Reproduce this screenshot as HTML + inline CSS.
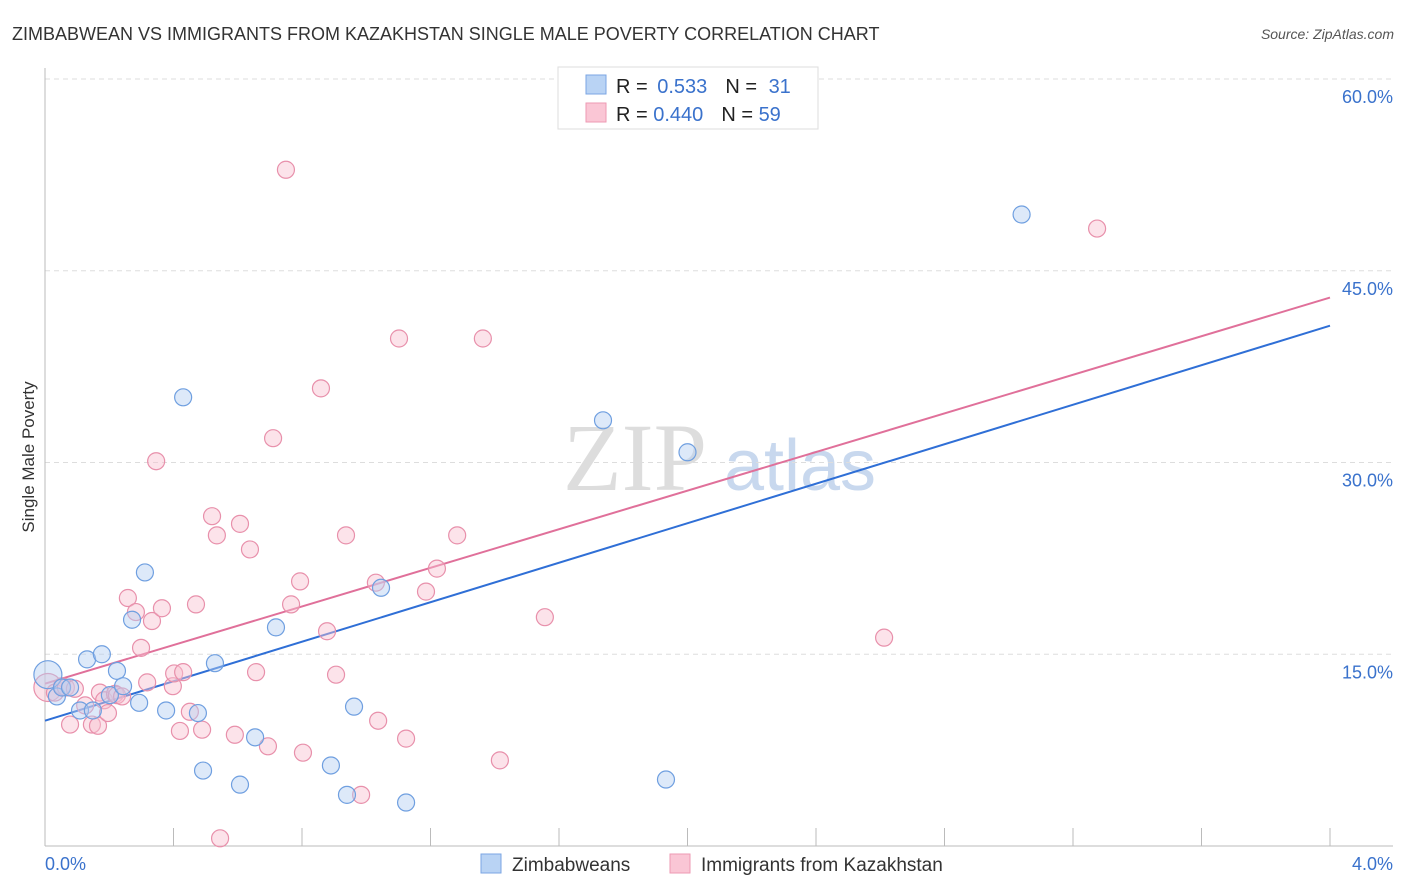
<!DOCTYPE html>
<html><head><meta charset="utf-8"><style>
body{margin:0;background:#fff;font-family:"Liberation Sans",sans-serif;}
svg{display:block}
</style></head><body>
<svg id="chart" width="1406" height="892" viewBox="0 0 1406 892" xmlns="http://www.w3.org/2000/svg">
<text x="12" y="40" font-size="18" fill="#333">ZIMBABWEAN VS IMMIGRANTS FROM KAZAKHSTAN SINGLE MALE POVERTY CORRELATION CHART</text>
<text x="1394" y="39" font-size="14" fill="#555" font-style="italic" text-anchor="end">Source: ZipAtlas.com</text>
<text transform="translate(34,457) rotate(-90)" font-size="17" fill="#333" text-anchor="middle">Single Male Poverty</text>
<g>
<text x="635" y="490" font-size="96" fill="#ddd" font-family="Liberation Serif" text-anchor="middle">ZIP</text>
<text x="800" y="490" font-size="72" fill="#c8d8ee" text-anchor="middle">atlas</text>
</g>
<g id="grid"></g><g id="axes"></g><g id="lines"></g><g id="pts"></g>
<g>
<rect x="558" y="67" width="260" height="62" fill="#fff" stroke="#ddd"/>
<rect x="586" y="75" width="20" height="19" fill="#b9d3f4" stroke="#7ba6e3"/>
<rect x="586" y="103" width="20" height="19" fill="#fac6d5" stroke="#ee9ab3"/>
<text x="616" y="93" font-size="20" fill="#222">R = <tspan fill="#3a72cc" dx="4">0.533</tspan><tspan dx="18" fill="#222">N = </tspan><tspan fill="#3a72cc" dx="6">31</tspan></text>
<text x="616" y="121" font-size="20" fill="#222">R = <tspan fill="#3a72cc">0.440</tspan><tspan dx="18" fill="#222">N = </tspan><tspan fill="#3a72cc">59</tspan></text>
</g>
<g>
<rect x="481" y="854" width="20" height="19" fill="#b9d3f4" stroke="#7ba6e3"/>
<text x="512" y="871" font-size="19" fill="#333">Zimbabweans</text>
<rect x="670" y="854" width="20" height="19" fill="#fac6d5" stroke="#ee9ab3"/>
<text x="701" y="871" font-size="19" fill="#333">Immigrants from Kazakhstan</text>
</g>
</svg>
<script>
const xTicks=[0,0.4,0.8,1.2,1.6,2.0,2.4,2.8,3.2,3.6,4.0];
const yTicks=[15,30,45,60];
const yTickLabels=["15.0%","30.0%","45.0%","60.0%"];
const xEndLabels=["0.0%","4.0%"];
const blueX=[0.009,0.037,0.053,0.078,0.109,0.131,0.149,0.177,0.202,0.224,0.243,0.271,0.293,0.311,0.377,0.43,0.476,0.492,0.529,0.607,0.654,0.719,0.89,0.94,0.962,1.046,1.124,1.737,1.933,2.0,3.04];
const blueY=[13.4,11.7,12.4,12.4,10.6,14.6,10.6,15.0,11.8,13.7,12.5,17.7,11.2,21.4,10.6,35.1,10.4,5.9,14.3,4.8,8.5,17.1,6.3,4.0,10.9,20.2,3.4,33.3,5.2,30.8,49.4];
const pinkX=[0.009,0.031,0.053,0.065,0.078,0.093,0.125,0.146,0.165,0.171,0.184,0.196,0.218,0.224,0.24,0.258,0.283,0.299,0.318,0.333,0.346,0.364,0.398,0.402,0.42,0.43,0.451,0.47,0.489,0.52,0.535,0.545,0.591,0.607,0.638,0.657,0.694,0.71,0.75,0.766,0.794,0.803,0.859,0.878,0.906,0.937,0.984,1.03,1.037,1.102,1.124,1.186,1.22,1.283,1.363,1.416,1.556,2.612,3.275];
const pinkY=[12.4,12.0,12.5,12.4,9.5,12.3,11.0,9.5,9.4,12.0,11.4,10.4,11.9,11.8,11.7,19.4,18.3,15.5,12.8,17.6,30.1,18.6,12.5,13.5,9.0,13.6,10.5,18.9,9.1,25.8,24.3,0.6,8.7,25.2,23.2,13.6,7.8,31.9,52.9,18.9,20.7,7.3,35.8,16.8,13.4,24.3,4.0,20.6,9.8,39.7,8.4,19.9,21.7,24.3,39.7,6.7,17.9,16.3,48.3];
const blueTrend=[9.8,40.7];
const pinkTrend=[12.7,42.9];
const NS="http://www.w3.org/2000/svg";
const X=v=>45+v/4*1285, Y=v=>846-v/60*767;
function mk(p,t,a){const e=document.createElementNS(NS,t);for(const k in a)e.setAttribute(k,a[k]);p.appendChild(e);return e;}
const grid=document.getElementById('grid'),axes=document.getElementById('axes'),lines=document.getElementById('lines'),pts=document.getElementById('pts');
yTicks.forEach((t,i)=>{
 const l=mk(grid,'line',{x1:45,x2:1393,y1:Y(t),y2:Y(t),stroke:'#ddd','stroke-dasharray':'5,4'});
 
 
 const tx=mk(axes,'text',{x:1393,y:Y(t)+24,'font-size':18,fill:'#3a72cc','text-anchor':'end'});
 tx.textContent=yTickLabels[i];
 
 
});
const ax=mk(axes,'line',{x1:45,x2:1393,y1:846,y2:846,stroke:'#bbb'});


const ay=mk(axes,'line',{x1:45,x2:45,y1:68,y2:846,stroke:'#bbb'});


xTicks.forEach(t=>{
 const l=mk(axes,'line',{x1:X(t),x2:X(t),y1:828,y2:846,stroke:'#bbb'});
 
 
});
[[0,'start',45],[4,'end',1393]].forEach((d,i)=>{
 const tx=mk(axes,'text',{x:d[2],y:870,'font-size':18,fill:'#3a72cc','text-anchor':d[1]});
 tx.textContent=xEndLabels[i];
 
 
});
function series(xs,ys,fill,stroke,name){
 xs.forEach((x,i)=>{
  const r=i===0?14:8.5;
  const c=mk(pts,'circle',{cx:X(x),cy:Y(ys[i]),r:r,fill:fill,'fill-opacity':0.45,stroke:stroke,'stroke-width':1.2});
  
  
 });
}
const bl=mk(lines,'line',{x1:X(0),y1:Y(blueTrend[0]),x2:X(4),y2:Y(blueTrend[1]),stroke:'#2f6fd6','stroke-width':2});


const pl=mk(lines,'line',{x1:X(0),y1:Y(pinkTrend[0]),x2:X(4),y2:Y(pinkTrend[1]),stroke:'#e0709a','stroke-width':2});


series(pinkX,pinkY,'#f8c0d0','#e890ab','kazakhstan-point');
series(blueX,blueY,'#b4cff2','#6f9fe0','zimbabwean-point');
</script>
</body></html>
